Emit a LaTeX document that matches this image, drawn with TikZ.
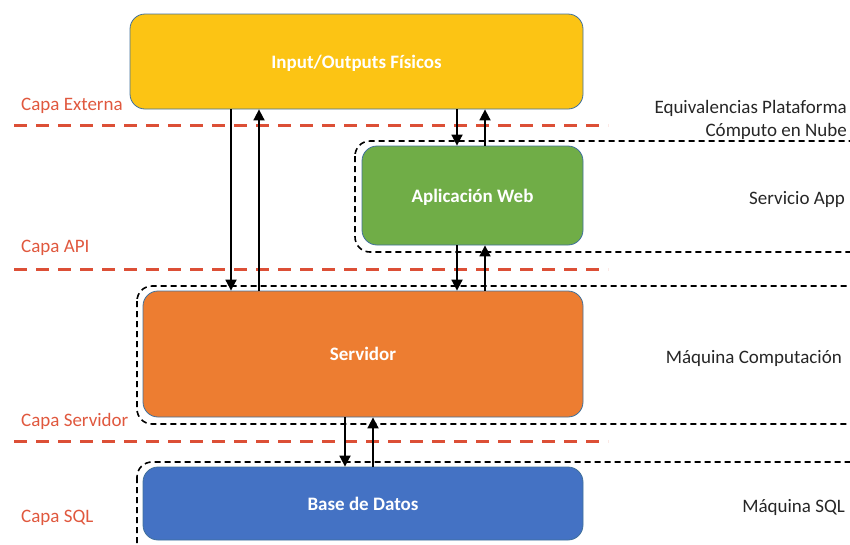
\documentclass[tikz,border=0pt]{standalone}
\usepackage{fontspec}
\setmainfont{Carlito}
\usetikzlibrary{arrows.meta}
\definecolor{ioyellow}{HTML}{FCC414}
\definecolor{appgreen}{HTML}{70AD47}
\definecolor{srvorange}{HTML}{ED7D31}
\definecolor{dbblue}{HTML}{4472C4}
\definecolor{boxedge}{HTML}{41719C}
\definecolor{layerred}{HTML}{DC4F36}
\definecolor{layertext}{HTML}{E0583E}
\definecolor{note}{HTML}{262626}
\tikzset{
  block/.style={draw=boxedge, line width=0.8pt, rounded corners=15pt,
    text=white, font=\fontsize{19}{22}\selectfont\bfseries,
    inner sep=0pt, text depth=0pt, anchor=center},
  layer/.style={layerred, line width=3pt, dash pattern=on 13pt off 9pt},
  layerlabel/.style={text=layertext, font=\fontsize{19}{22}\selectfont,
    anchor=west, inner sep=0pt},
  service/.style={draw=black, line width=1.6pt, dash pattern=on 6pt off 4pt,
    rounded corners=15pt},
  servicelabel/.style={text=note, font=\fontsize{19}{23}\selectfont,
    anchor=east, inner sep=0pt, align=right},
  flow/.style={black, line width=1.8pt,
    -{Triangle[width=11pt,length=11pt]}}
}
\begin{document}
\begin{tikzpicture}[x=1pt, y=-1pt]
\useasboundingbox (0,0) rectangle (850,544);
\clip (0,0) rectangle (850,544);

% cloud service boundaries
\draw[service] (355,141) rectangle (866,252);
\draw[service] (137,286) rectangle (866,424);
\draw[service] (137,462) rectangle (866,562);

% layer separators
\coordinate (l1a) at (14,125);  \coordinate (l1b) at (608,125);
\coordinate (l2a) at (14,269);  \coordinate (l2b) at (608,269);
\coordinate (l3a) at (14,441);  \coordinate (l3b) at (608,441);
\draw[layer] (l1a) -- (l1b);
\draw[layer] (l2a) -- (l2b);
\draw[layer] (l3a) -- (l3b);

% components
\node[block, fill=ioyellow, minimum width=453pt, minimum height=95pt]
  (io) at (356.5,61.5) {Input/Outputs Físicos};
\node[block, fill=appgreen, minimum width=221pt, minimum height=99pt]
  (app) at (472.5,195.5) {Aplicación Web};
\node[block, fill=srvorange, minimum width=440pt, minimum height=126pt]
  (srv) at (363,354) {Servidor};
\node[block, fill=dbblue, minimum width=440pt, minimum height=73pt]
  (db) at (363,503.5) {Base de Datos};

% layer names
\node[layerlabel] (lext) at (21,106) {Capa Externa};
\node[layerlabel] (lapi) at (21,248) {Capa API};
\node[layerlabel] (lsrv) at (21,421) {Capa Servidor};
\node[layerlabel] (lsql) at (21,518) {Capa SQL};

% cloud platform equivalents
\node[servicelabel] (eqv) at (847,120) {Equivalencias Plataforma\\Cómputo en Nube};
\node[servicelabel] (sapp) at (845,199) {Servicio App};
\node[servicelabel] (smc) at (842,358) {Máquina Computación};
\node[servicelabel] (ssql) at (845,507) {Máquina SQL};

% data flows
\coordinate (xa) at (231,0);
\coordinate (xb) at (259,0);
\coordinate (xc) at (457,0);
\coordinate (xd) at (485,0);
\coordinate (xe) at (345,0);
\coordinate (xf) at (373,0);
\draw[flow] (io.south -| xa) -- (srv.north -| xa);
\draw[flow] (srv.north -| xb) -- (io.south -| xb);
\draw[flow] (io.south -| xc) -- (app.north -| xc);
\draw[flow] (app.north -| xd) -- (io.south -| xd);
\draw[flow] (app.south -| xc) -- (srv.north -| xc);
\draw[flow] (srv.north -| xd) -- (app.south -| xd);
\draw[flow] (srv.south -| xe) -- (db.north -| xe);
\draw[flow] (db.north -| xf) -- (srv.south -| xf);
\end{tikzpicture}
\end{document}
